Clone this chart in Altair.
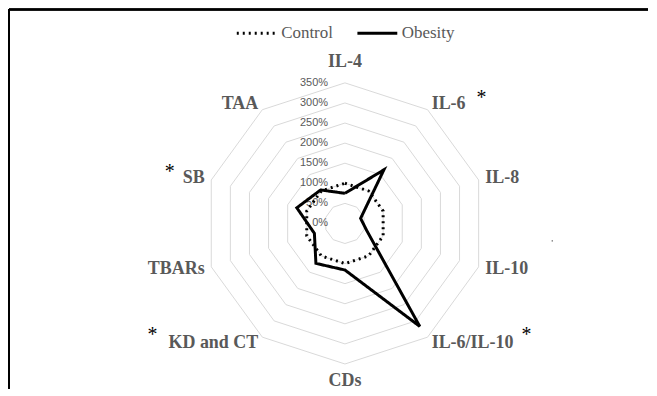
import math
import altair as alt
import pandas as pd

# ---- data ----
categories = ["IL-4", "IL-6", "IL-8", "IL-10", "IL-6/IL-10",
              "CDs", "KD and CT", "TBARs", "SB", "TAA"]
control = [100, 100, 100, 100, 100, 100, 100, 100, 100, 100]
obesity = [75, 165, 41, 57, 317, 116, 123, 80, 126, 103]
significant = ["IL-6", "IL-6/IL-10", "KD and CT", "SB"]
ring_levels = [50, 100, 150, 200, 250, 300, 350]
tick_values = [0, 50, 100, 150, 200, 250, 300, 350]
tick_labels = ["0%", "50%", "100%", "150%", "200%", "250%", "300%", "350%"]

# ---- layout ----
W, H = 641, 380
CX, CY = 337, 214.5          # centre of the radar in plot pixels
PX = 141 / 350               # pixels per percent
xdom = [-CX / PX, (W - CX) / PX]
ydom = [-(H - CY) / PX, CY / PX]
N = len(categories)
SERIF = "'Liberation Serif', 'Times New Roman', Times, serif"


def polar(v, i):
    th = 2 * math.pi * i / N
    return v * math.sin(th), v * math.cos(th)


rings = []
for lvl in ring_levels:
    for j in range(N + 1):
        x, y = polar(lvl, j % N)
        rings.append({"level": lvl, "order": j, "x": x, "y": y})
rings = pd.DataFrame(rings)

series = []
for name, vals in [("Control", control), ("Obesity", obesity)]:
    for j in range(N + 1):
        x, y = polar(vals[j % N], j % N)
        series.append({"series": name, "order": j, "x": x, "y": y})
series = pd.DataFrame(series)

ticks = pd.DataFrame({"x": [0] * len(tick_values), "y": tick_values, "label": tick_labels})

labels = []
for i, c in enumerate(categories):
    s = math.sin(2 * math.pi * i / N)
    co = math.cos(2 * math.pi * i / N)
    if s > 0.1:
        side, r = "right", 148 / PX
    elif s < -0.1:
        side, r = "left", 148 / PX
    elif co > 0:
        side, r = "top", 157 / PX
    else:
        side, r = "bottom", 149 / PX
    x, y = polar(r, i)
    labels.append({"label": c, "side": side, "x": x, "y": y})
labels = pd.DataFrame(labels)

X = alt.X("x:Q", scale=alt.Scale(domain=xdom, nice=False, zero=False), axis=None)
Y = alt.Y("y:Q", scale=alt.Scale(domain=ydom, nice=False, zero=False), axis=None)

grid = alt.Chart(rings).mark_line(color="#d9d9d9", strokeWidth=1).encode(
    x=X, y=Y, order="order:Q", detail="level:N")

tick_text = alt.Chart(ticks).mark_text(
    align="right", baseline="middle", dx=-17, font="Liberation Sans",
    fontSize=11, color="#595959").encode(x=X, y=Y, text="label:N")

lines = alt.Chart(series).mark_line(color="black", strokeWidth=3).encode(
    x=X, y=Y, order="order:Q",
    strokeDash=alt.StrokeDash(
        "series:N",
        scale=alt.Scale(domain=["Control", "Obesity"], range=[[2, 4], [1, 0]]),
        legend=alt.Legend(
            title=None, orient="none", legendX=227, legendY=2,
            direction="horizontal", symbolType="stroke", symbolSize=1600,
            symbolStrokeWidth=3, symbolStrokeColor="black",
            labelFont=SERIF, labelFontSize=17,
            labelColor="#595959", labelOffset=3, columnPadding=18, padding=0)))

lab_style = dict(font=SERIF, fontSize=18, fontWeight="bold", color="#595959")


def label_layer(side, align, baseline):
    return alt.Chart(labels).transform_filter(alt.datum.side == side).mark_text(
        align=align, baseline=baseline, **lab_style).encode(x=X, y=Y, text="label:N")


label_layers = [
    label_layer("right", "left", "middle"),
    label_layer("left", "right", "middle"),
    label_layer("top", "center", "alphabetic"),
    label_layer("bottom", "center", "top"),
]

star_offsets = {"IL-6": (50, -6), "IL-6/IL-10": (95, -8), "SB": (-35, -6), "KD and CT": (-106, -8)}
star_layers = []
for name in significant:
    dx, dy = star_offsets[name]
    star_layers.append(
        alt.Chart(labels).transform_filter(alt.datum.label == name).mark_text(
            text="*", align="center", baseline="middle", dx=dx, dy=dy,
            font=SERIF, fontSize=20, color="black").encode(x=X, y=Y))

frame_left = alt.Chart(ticks).mark_rule(color="black", strokeWidth=1.5).encode(
    x=alt.value(0), y=alt.value(0), y2=alt.value(H))
frame_top = alt.Chart(ticks).mark_rule(color="black", strokeWidth=1.5).encode(
    x=alt.value(0), x2=alt.value(W), y=alt.value(0))
speck = alt.Chart(ticks.head(1)).mark_square(size=2, color="#444").encode(
    x=alt.value(545), y=alt.value(232))

chart = alt.layer(grid, tick_text, lines, *label_layers, *star_layers,
                  frame_left, frame_top, speck).properties(
    width=W, height=H, padding=0, background="white"
).configure_view(stroke=None)

chart.save("out.html", embed_options={"renderer": "svg", "actions": False})
